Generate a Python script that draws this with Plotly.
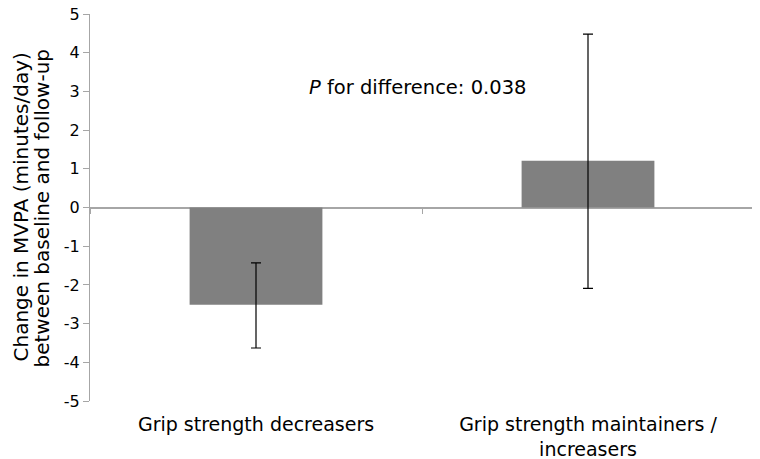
import plotly.graph_objects as go

categories = ["Grip strength decreasers", "Grip strength maintainers /<br>increasers"]
change_mvpa = [-2.51, 1.21]
ci_low = [-3.63, -2.09]
ci_high = [-1.43, 4.48]
y_ticks = [5, 4, 3, 2, 1, 0, -1, -2, -3, -4, -5]
y_title_lines = ["Change in MVPA (minutes/day)", "between baseline and follow-up"]
annotation_text = "<i>P</i> for difference: 0.038"

xpos = list(range(len(categories)))
err_plus = [h - v for h, v in zip(ci_high, change_mvpa)]
err_minus = [v - l for l, v in zip(ci_low, change_mvpa)]

FONT = "DejaVu Sans, Verdana, sans-serif"
AXC = "#a6a6a6"

fig = go.Figure()
fig.add_trace(go.Bar(
    x=xpos, y=change_mvpa, width=0.4,
    marker=dict(color="#808080", line=dict(width=0)),
    error_y=dict(type="data", symmetric=False, array=err_plus, arrayminus=err_minus,
                 color="#000000", thickness=1.2, width=5),
    showlegend=False, hoverinfo="skip",
))
# invisible trace for the zero-line category axis
fig.add_trace(go.Scatter(x=xpos, y=[0, 0], xaxis="x2", mode="markers",
                         marker=dict(opacity=0), showlegend=False, hoverinfo="skip"))

annotations = [dict(text=annotation_text, x=0.485, y=3.1, xref="x", yref="y",
                    xanchor="center", yanchor="middle", showarrow=False,
                    font=dict(size=19.5))]
for i, line in enumerate(y_title_lines):
    annotations.append(dict(text=line, x=[-0.1054, -0.0723][i], y=0.5,
                            xref="paper", yref="paper", textangle=-90,
                            xanchor="center", yanchor="middle", showarrow=False,
                            font=dict(size=20)))

fig.update_layout(
    width=760, height=459,
    margin=dict(l=82, r=14, t=6, b=66),
    paper_bgcolor="white", plot_bgcolor="white",
    font=dict(family=FONT, size=16, color="#000000"),
    xaxis=dict(range=[-0.5, 1.5], tickvals=xpos, ticktext=categories,
               showgrid=False, zeroline=False, showline=False, ticks="",
               automargin=False, ticklabelstandoff=10, tickfont=dict(size=19)),
    xaxis2=dict(range=[-0.5, 1.5], overlaying="x", anchor="free", position=0.5,
                tickvals=[-0.5, 0.5, 1.5], ticks="outside", ticklen=5, tickcolor=AXC,
                tickwidth=1, showticklabels=False, showgrid=False, zeroline=False,
                showline=False, automargin=False),
    yaxis=dict(range=[-5, 5], tickvals=y_ticks, ticktext=[str(v) for v in y_ticks],
               ticks="outside", ticklen=6, automargin=False, ticklabeloverflow="allow",
               tickcolor=AXC, showline=True, linecolor=AXC, linewidth=1,
               showgrid=False, zeroline=True, zerolinecolor=AXC, zerolinewidth=2,
               tickfont=dict(size=16)),
    annotations=annotations,
)

fig.write_html("out.html")
